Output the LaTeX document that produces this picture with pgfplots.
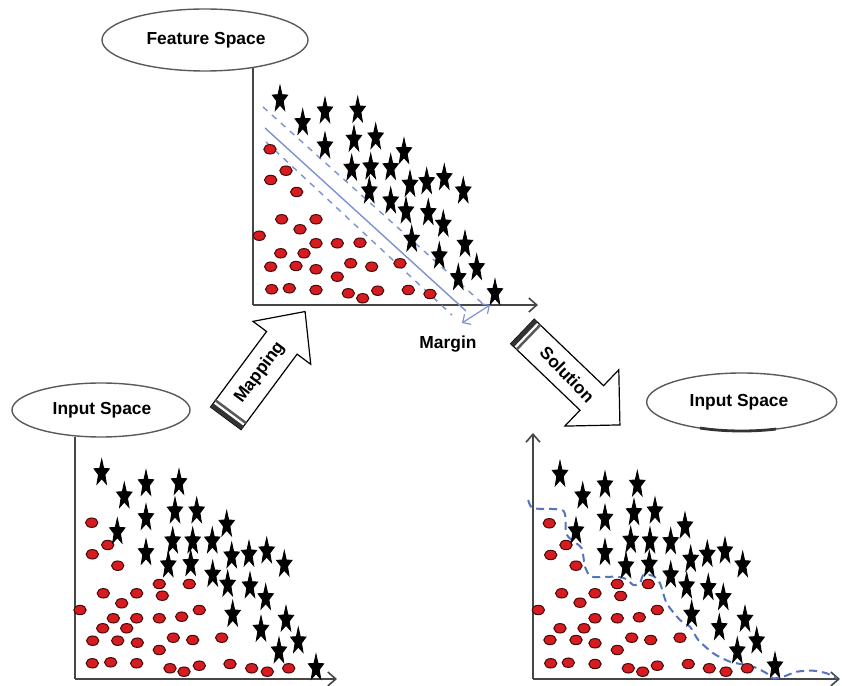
\documentclass[border=0pt]{standalone}
\usepackage{pgfplots}
\pgfplotsset{compat=1.18}
\usepackage{fontspec}
\setmainfont{Liberation Sans}
\usetikzlibrary{arrows.meta}

\definecolor{dotred}{RGB}{214,28,32}
\definecolor{dotedge}{RGB}{70,10,10}
\definecolor{sepblue}{RGB}{125,145,210}
\definecolor{bndblue}{RGB}{85,115,190}
\definecolor{axgray}{RGB}{70,70,70}
\definecolor{ellgray}{RGB}{90,90,90}

\newcommand{\lab}{\fontsize{8.7}{10}\selectfont\bfseries}

% tall filled five-pointed star (outer radius 1, stretched 1.7 upwards)
\newcommand{\stp}[2]{\pgfpoint{#1\pgfplotmarksize}{#2\pgfplotmarksize}}
\pgfdeclareplotmark{tallstar}{%
  \pgfpathmoveto{\stp{0}{1.54}}%
  \pgfpathlineto{\stp{-0.2469}{0.4176}}%
  \pgfpathlineto{\stp{-0.9511}{0.365}}%
  \pgfpathlineto{\stp{-0.3995}{-0.3806}}%
  \pgfpathlineto{\stp{-0.5878}{-1.535}}%
  \pgfpathlineto{\stp{0}{-0.874}}%
  \pgfpathlineto{\stp{0.5878}{-1.535}}%
  \pgfpathlineto{\stp{0.3995}{-0.3806}}%
  \pgfpathlineto{\stp{0.9511}{0.365}}%
  \pgfpathlineto{\stp{0.2469}{0.4176}}%
  \pgfpathclose
  \pgfusepathqfillstroke
}

\pgfplotsset{
  panel/.style={scale only axis, anchor=south west, axis lines=left,
    enlargelimits=false, clip=false, xtick=\empty, ytick=\empty,
    axis line style={axgray, line width=0.8pt},
    x axis line style={-{Straight Barb[length=4pt,width=7pt]}},
    y axis line style={-}},
  stars/.style={only marks, mark=tallstar, mark size=4pt,
    mark options={fill=black, draw=black, line width=0.45pt}},
  dots/.style={only marks, mark=*, mark size=3.1pt,
    mark options={fill=dotred, draw=dotedge, line width=0.5pt, yscale=0.76}},
}

\begin{document}
\begin{tikzpicture}
\path[use as bounding box] (0,0) rectangle (421pt,343pt);

% feature space
\begin{axis}[panel, at={(126.5pt,190.5pt)}, width=142.5pt, height=118.5pt,
  xmin=253, xmax=538, ymin=381, ymax=618]
\addplot[sepblue, line width=0.7pt, dashed] coordinates {(263,579) (482,383)};
\addplot[sepblue, line width=0.7pt] coordinates {(265,558) (466,375)};
\addplot[sepblue, line width=0.7pt, dashed] coordinates {(266,544) (452,371)};
\addplot[sepblue, line width=0.6pt, {Straight Barb[length=3pt]}-{Straight Barb[length=3pt]}]
  coordinates {(462,363) (490,381)};
\addplot[dots] coordinates {
(270,536.7) (286,515.3) (270.7,506) (296.7,494) (281.7,466.7) (316,466.7)
(300,456.7) (259.3,450.3) (316,442.7) (337.3,442.7) (360,443.3) (280.7,432.7)
(304,432.7) (270.7,419.3) (296,420) (316,416.7) (350.7,422.7) (371.7,419.3)
(337.3,409.3) (400,422.7) (271.7,396.7) (289.3,397.7) (316,396) (348.3,392.7)
(362.7,387.7) (377.7,395.3) (408.3,396) (430,392)};
\addplot[stars] coordinates {
(280,588) (302.7,564.3) (325,576) (357.7,576.7) (325,541) (354,547.7)
(375.7,550) (351.7,518.7) (370.7,520) (390.7,519.3) (404,535.3) (369.3,496)
(390.7,486) (410,502.7) (426.7,505.3) (444.3,509.3) (463.3,496) (406,476)
(428.3,474.3) (443.3,462.7) (411.7,447.7) (465,442.7) (439.3,431) (476.7,419.3)
(458.3,409.3) (495,394.3)};
\end{axis}

% input space, left
\begin{axis}[panel, at={(37.5pt,3.5pt)}, width=131pt, height=121pt,
  xmin=75, xmax=337, ymin=7, ymax=249]
\addplot[dots] coordinates {
(91.7,163.3) (107.7,141) (92.3,131.7) (117.7,120.3) (159.3,102) (189.3,102)
(103.3,92.7) (136.7,92.7) (162.3,90.3) (121.7,82.7) (80,76) (199.3,76)
(113.3,67.7) (136.7,67.7) (159.3,67.7) (181.7,69.3) (102.7,57.7) (126.7,57.7)
(92.7,45.3) (117.7,45.3) (137.3,43.3) (173.3,48.3) (192.7,46) (221.7,48.3)
(159.3,36) (92.3,22.7) (110.7,23.7) (136.7,22.7) (170,17.7) (184,14.3)
(199.3,20.3) (230,22) (251.7,17.7) (267.3,14.3) (288.7,17.7)};
\addplot[stars] coordinates {
(101.7,214.3) (124.3,191) (146,203.3) (179,204.3) (146,169.3) (175,176)
(196.7,176) (117.3,155.3) (146,134.3) (172.7,146) (192.7,146) (212.3,146)
(226.7,162.7) (168.3,122) (190.7,123.3) (212.7,112.7) (231.7,131) (249,132.7)
(266.7,136) (284.3,122.7) (227.7,102.7) (250,101) (265.7,89.3) (232.7,72.7)
(261,57.7) (286,67.7) (298.3,46) (279,36) (316,19.3)};
\end{axis}

% input space, right (solution)
\begin{axis}[panel, at={(266.5pt,3.5pt)}, width=153.5pt, height=123pt,
  xmin=533, xmax=840, ymin=7, ymax=253,
  y axis line style={-{Straight Barb[length=4pt,width=7pt]}}]
\addplot[dots] coordinates {
(549.3,162.7) (566,141) (550.7,131) (576,120.3) (617.3,102) (648.3,102)
(561.7,92.7) (595,92.7) (620.7,90) (580,83.3) (538.3,76) (657.3,76)
(560,57.7) (584,57.7) (595,67.7) (617.3,67.7) (639.3,68.7) (550,46)
(576,46) (595,42.7) (631.7,48.3) (650.7,46) (680,48.3) (617.3,36)
(550.7,22.7) (568.3,23.3) (595,22) (628.3,17.7) (642.7,14.3) (657.3,20.3)
(688.3,22) (709.3,17.7) (726,14.3) (747.3,17.7)};
\addplot[stars] coordinates {
(560,212.7) (582.7,191) (605,202) (637.3,202.7) (605,168.7) (634,174.3)
(655,176) (576,156) (605,134.3) (630.7,146.7) (650,146) (670.7,145.3)
(685,161) (626,121) (649.3,122.7) (670.7,112) (690.7,127.7) (707.3,132.7)
(725,136) (742.7,122) (686.7,101) (708.3,99.3) (723.3,89.3) (691.7,72.7)
(719.3,59.3) (745,67.7) (756.7,46) (737.3,36) (775,21)};
\addplot[bndblue, line width=1pt, dash pattern=on 4pt off 2.5pt, smooth, tension=0.4]
coordinates {
(528.3,186) (533.3,177.7) (563.3,175.3) (566,152.7) (571.7,146) (581.7,137.7)
(585,119.3) (591.7,109.3) (616.7,109.3) (626.7,106.7) (633.3,101) (640,102.7)
(643.3,111) (653.3,110) (660,102.7) (666.7,82.7) (680,66) (690,59.3)
(698.3,46) (713.3,32.7) (730,24.3) (753.3,19.3) (766.7,12.7) (773.3,7.7)
(783.3,9.3) (796.7,14.3) (813.3,15.3) (826.7,12.7) (836.7,7.7)};
\end{axis}

\begin{scope}[x=0.5pt,y=0.5pt]
\draw[ellgray, line width=0.7pt, fill=white] (205,646) ellipse [x radius=103, y radius=31];
\node[font=\lab] at (206,646) {Feature Space};
\draw[ellgray, line width=0.7pt, fill=white] (101,276) ellipse [x radius=89, y radius=27];
\node[font=\lab] at (102,276) {Input Space};
\draw[ellgray, line width=0.7pt, fill=white] (741.7,284) ellipse [x radius=95, y radius=29];
\begin{scope}
\clip (700,240) rectangle (776,262);
\draw[black!80, line width=1.4pt] (741.7,284) ellipse [x radius=95, y radius=29];
\end{scope}
\node[font=\lab] at (739,284) {Input Space};
\node[font=\lab] at (448,342) {Margin};
\end{scope}

% mapping arrow
\begin{scope}[x=0.5pt,y=0.5pt,shift={(225.8,267.7)},rotate=53.4]
\draw[black, line width=0.6pt, fill=white] (0,-19) -- (94,-19) -- (94,-36) -- (133,0)
  -- (94,36) -- (94,19) -- (0,19) -- cycle;
\fill[black!80] (0,-19) rectangle (4.5,19);
\fill[black!65] (7,-19) rectangle (9.5,19);
\node[rotate=53.4, font=\lab] at (57,0) {Mapping};
\end{scope}

% solution arrow
\begin{scope}[x=0.5pt,y=0.5pt,shift={(522.5,354.5)},rotate=-43.8]
\draw[black, line width=0.6pt, fill=white] (0,-17) -- (96,-17) -- (96,-39) -- (135,0)
  -- (96,39) -- (96,17) -- (0,17) -- cycle;
\fill[black!80] (0,-17) rectangle (4.5,17);
\fill[black!65] (7,-17) rectangle (9.5,17);
\node[rotate=-46, font=\lab] at (62,0) {Solution};
\end{scope}
\end{tikzpicture}
\end{document}
